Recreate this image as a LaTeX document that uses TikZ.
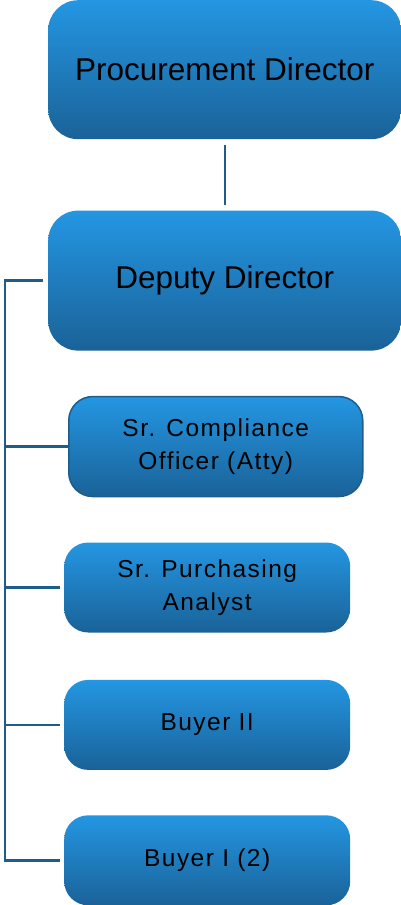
\documentclass[tikz,border=0pt]{standalone}
\usepackage{fontspec}
\setmainfont{Liberation Sans}
\newfontfamily\spacedfont[LetterSpace=6]{Liberation Sans}
\usetikzlibrary{positioning}
\definecolor{boxtop}{RGB}{36,150,226}
\definecolor{boxbot}{RGB}{26,98,152}
\definecolor{linkblue}{RGB}{30,92,140}
\tikzset{
    base/.style={text centered, align=center, text=black},
    bigbox/.style={base, rectangle, rounded corners=30pt, minimum width=353pt, minimum height=139pt, top color=boxtop, bottom color=boxbot, font=\fontsize{31.5}{36}\selectfont},
    smallbox/.style={base, rectangle, rounded corners=24pt, minimum width=286pt, minimum height=90pt, top color=boxtop, bottom color=boxbot, font=\spacedfont\fontsize{24.5}{33}\selectfont},
    link/.style={line width=2.4pt, draw=linkblue}
}

\begin{document}
\begin{tikzpicture}[node distance=45pt]
        \useasboundingbox (0,0) rectangle (401pt,-905pt);
        % Directors
        \node (pd) [bigbox, anchor=north west] at (48pt,0pt) {Procurement Director};
        \node (dd) [bigbox, below=71pt of pd, minimum height=140pt] {Deputy Director};

        % Staff
        \node (sco) [smallbox, below=45pt of dd.south west, anchor=north west, xshift=20pt, minimum width=294pt, minimum height=100pt, draw=linkblue, line width=1.5pt] {Sr. Compliance\\Officer (Atty)};
        \node (spa) [smallbox, below=45pt of sco.south west, anchor=north west, xshift=-4pt] {Sr. Purchasing\\Analyst};
        \node (by2) [smallbox, below=47pt of spa] {Buyer II};
        \node (by1) [smallbox, below=of by2] {Buyer I (2)};

        \draw [link, shorten <=6pt, shorten >=5pt] (pd) -- (dd);
        \draw [link] ([xshift=-5pt]dd.west) -- ++(-38pt,0) coordinate (spine) |- ([xshift=-4pt]by1.west);
        \draw [link] (sco.west) -- (sco.west -| spine);
        \draw [link] ([xshift=-4pt]spa.west) -- (spa.west -| spine);
        \draw [link] ([xshift=-4pt]by2.west) -- (by2.west -| spine);
    \end{tikzpicture}
\end{document}
